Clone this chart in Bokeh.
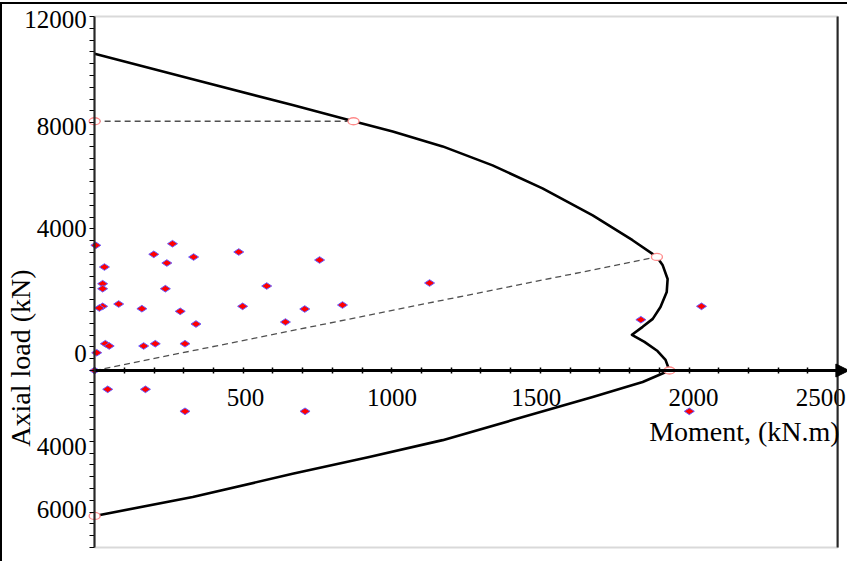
import math
from bokeh.plotting import figure
from bokeh.models import FixedTicker, Label, Arrow, NormalHead, BoxAnnotation
from bokeh.embed import file_html
from bokeh.resources import INLINE

# Interaction curve: moment (kN.m) and axial load (kN)
curve_M = [0, 330, 666, 871, 1003, 1171, 1339, 1507, 1676, 1810, 1892, 1911, 1928, 1925, 1904,
           1878, 1844, 1808, 1850, 1894, 1921, 1934, 1844, 1676, 1406, 1171, 924, 666, 330, 0]
curve_P = [10740, 9870, 9000, 8450, 8105, 7597, 6953, 6173, 5258, 4417, 3850, 3580, 3100, 2660, 2150,
           1750, 1480, 1210, 970, 660, 360, 0, -390, -900, -1680, -2360, -2930, -3500, -4290, -4930]

# Key points (open circles)
key_M = [0, 871, 1892, 1934, 0]
key_P = [8450, 8450, 3850, 0, -4930]

# Applied load points (diamonds)
load_M = [4, 262, 199, 485, 333, 243, 33, 27, 27, 238, 579, 81, 27, 16, 159, 498, 288, 341, 642,
          36, 49, 165, 204, 304, 7, 0, 44, 171, 304, 708, 757, 1127, 1838, 2042, 2001, 707, 834]
load_P = [4244, 4298, 3939, 4017, 3847, 3644, 3508, 2942, 2773, 2773, 2864, 2254, 2176, 2119, 2095,
          2176, 2007, 1576, 1644, 908, 831, 831, 908, 908, 603, 0, -637, -637, -1383, -1383, 3746,
          2966, 1722, 2176, -1383, 2085, 2220]

# Axis extents and tick labels
M_max = 2500
P_min, P_max = -6000, 12000
x_tick_values = [508, 1001, 1486, 2015, 2443]
x_tick_labels = ["500", "1000", "1500", "2000", "2500"]
y_tick_values = [11900, 8260, 4800, 570, -2560, -4700]
y_tick_labels = ["12000", "8000", "4000", "0", "4000", "6000"]

FONT = "Liberation Serif"

p = figure(width=847, height=559, x_range=(-310, 2540), y_range=(-6542, 12407),
           output_backend="svg", toolbar_location=None,
           min_border_left=0, min_border_right=0, min_border_top=0, min_border_bottom=0)
p.styles = {"border-left": "2px solid black", "border-top": "2px solid black", "margin-top": "2px"}
p.xgrid.visible = False
p.ygrid.visible = False
p.outline_line_color = None
p.background_fill_color = "white"
p.border_fill_color = "white"

# inner chart box
p.add_layout(BoxAnnotation(left=0, right=M_max, bottom=P_min, top=P_max, fill_color=None,
                           line_color="#808080", line_width=2))
p.segment(x0=[M_max], y0=[P_min], x1=[M_max], y1=[P_max], line_color="black", line_width=2)

# x axis through the origin
xa = p.xaxis[0]
xa.fixed_location = 0
xa.bounds = (0, M_max)
xa.ticker = FixedTicker(ticks=x_tick_values, minor_ticks=list(range(0, M_max + 1, 100)))
xa.major_label_overrides = dict(zip(x_tick_values, x_tick_labels))
xa.axis_line_color = "black"
xa.axis_line_width = 3
xa.major_tick_line_color = None
xa.minor_tick_line_color = "black"
xa.minor_tick_line_width = 1.5
xa.minor_tick_in = 3
xa.minor_tick_out = 3
xa.major_label_standoff = 12
xa.major_label_text_font = FONT
xa.major_label_text_font_size = "25px"
xa.major_label_text_color = "black"

# y axis along the left edge of the box
ya = p.yaxis[0]
ya.fixed_location = 0
ya.bounds = (P_min, P_max)
ya.ticker = FixedTicker(ticks=y_tick_values, minor_ticks=list(range(P_min, P_max + 1, 400)))
ya.major_label_overrides = dict(zip(y_tick_values, y_tick_labels))
ya.axis_line_color = "black"
ya.axis_line_width = 2
ya.major_tick_line_color = None
ya.minor_tick_line_color = "black"
ya.minor_tick_line_width = 1
ya.minor_tick_in = 0
ya.minor_tick_out = 5
ya.major_label_standoff = 2
ya.major_label_text_font = FONT
ya.major_label_text_font_size = "25px"
ya.major_label_text_color = "black"

# arrow at end of moment axis
p.add_layout(Arrow(x_start=2490, y_start=0, x_end=2538, y_end=0, line_width=3, line_color="black",
                   end=NormalHead(size=13, fill_color="black", line_color="black")))

# dashed guide lines
p.line([key_M[0], key_M[1]], [key_P[0], key_P[1]], line_color="#505050", line_width=1.3, line_dash="6 4")
p.line([0, key_M[2]], [0, key_P[2]], line_color="#505050", line_width=1.3, line_dash="6 4")

# interaction curve
p.line(curve_M, curve_P, line_color="black", line_width=2.6, line_join="round")

# applied loads
p.scatter(load_M, load_P, marker="diamond", size=10, angle=math.pi / 2,
          fill_color="#ff0000", line_color="#6a5cff", line_width=1)

# key points
p.ellipse(key_M, key_P, width=11, height=7, width_units="screen", height_units="screen",
          fill_color="white", line_color="#ff8a8a", line_width=1.3)

p.add_layout(Label(x=2507, y=-2051, text="Moment, (kN.m)", text_align="right",
                   text_baseline="alphabetic", text_font=FONT, text_font_size="28px",
                   text_color="black"))
p.add_layout(Label(x=-251, y=424, text="Axial load (kN)", angle=math.pi / 2, text_align="center",
                   text_baseline="middle", text_font=FONT, text_font_size="28px",
                   text_color="black"))

open("out.html", "w").write(file_html(p, INLINE))
